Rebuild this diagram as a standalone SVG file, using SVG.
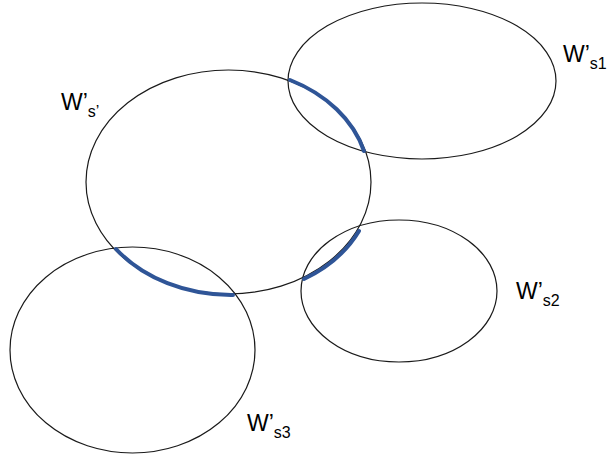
<svg xmlns="http://www.w3.org/2000/svg" width="608" height="454" viewBox="0 0 608 454">
  <style>
    .set { fill: none; stroke: #1a1a1a; stroke-width: 1.2; }
    .lbl { font-family: "Liberation Sans", Arial, sans-serif; font-size: 23px; fill: #000; }
    .sub { font-size: 16px; }
    .edge { fill: none; stroke: #2f5597; stroke-width: 4; stroke-linecap: round; }
  </style>
  <rect width="608" height="454" fill="#fff"/>
  <g id="node-Ws1">
    <ellipse class="set" cx="422" cy="81" rx="134" ry="78"/>
    <text class="lbl" x="563" y="62">W’<tspan class="sub" dy="7">s1</tspan></text>
  </g>
  <g id="node-Wsprime">
    <ellipse class="set" cx="228.5" cy="182" rx="142.5" ry="112"/>
    <text class="lbl" x="61" y="110">W’<tspan class="sub" dy="7">s’</tspan></text>
  </g>
  <g id="node-Ws2">
    <ellipse class="set" cx="399" cy="291" rx="98" ry="71"/>
    <text class="lbl" x="516" y="299">W’<tspan class="sub" dy="7">s2</tspan></text>
  </g>
  <g id="node-Ws3">
    <ellipse class="set" cx="132.5" cy="350" rx="122.5" ry="103"/>
    <text class="lbl" x="247" y="431">W’<tspan class="sub" dy="7">s3</tspan></text>
  </g>
  <g id="connectors">
    <path class="edge" d="M290,80 A142.5,112 0 0,1 364,151"/>
    <path class="edge" d="M359,231 A142.5,112 0 0,1 304,279"/>
    <path class="edge" d="M116,249 A142.5,112 0 0,0 233,295"/>
  </g>
</svg>
